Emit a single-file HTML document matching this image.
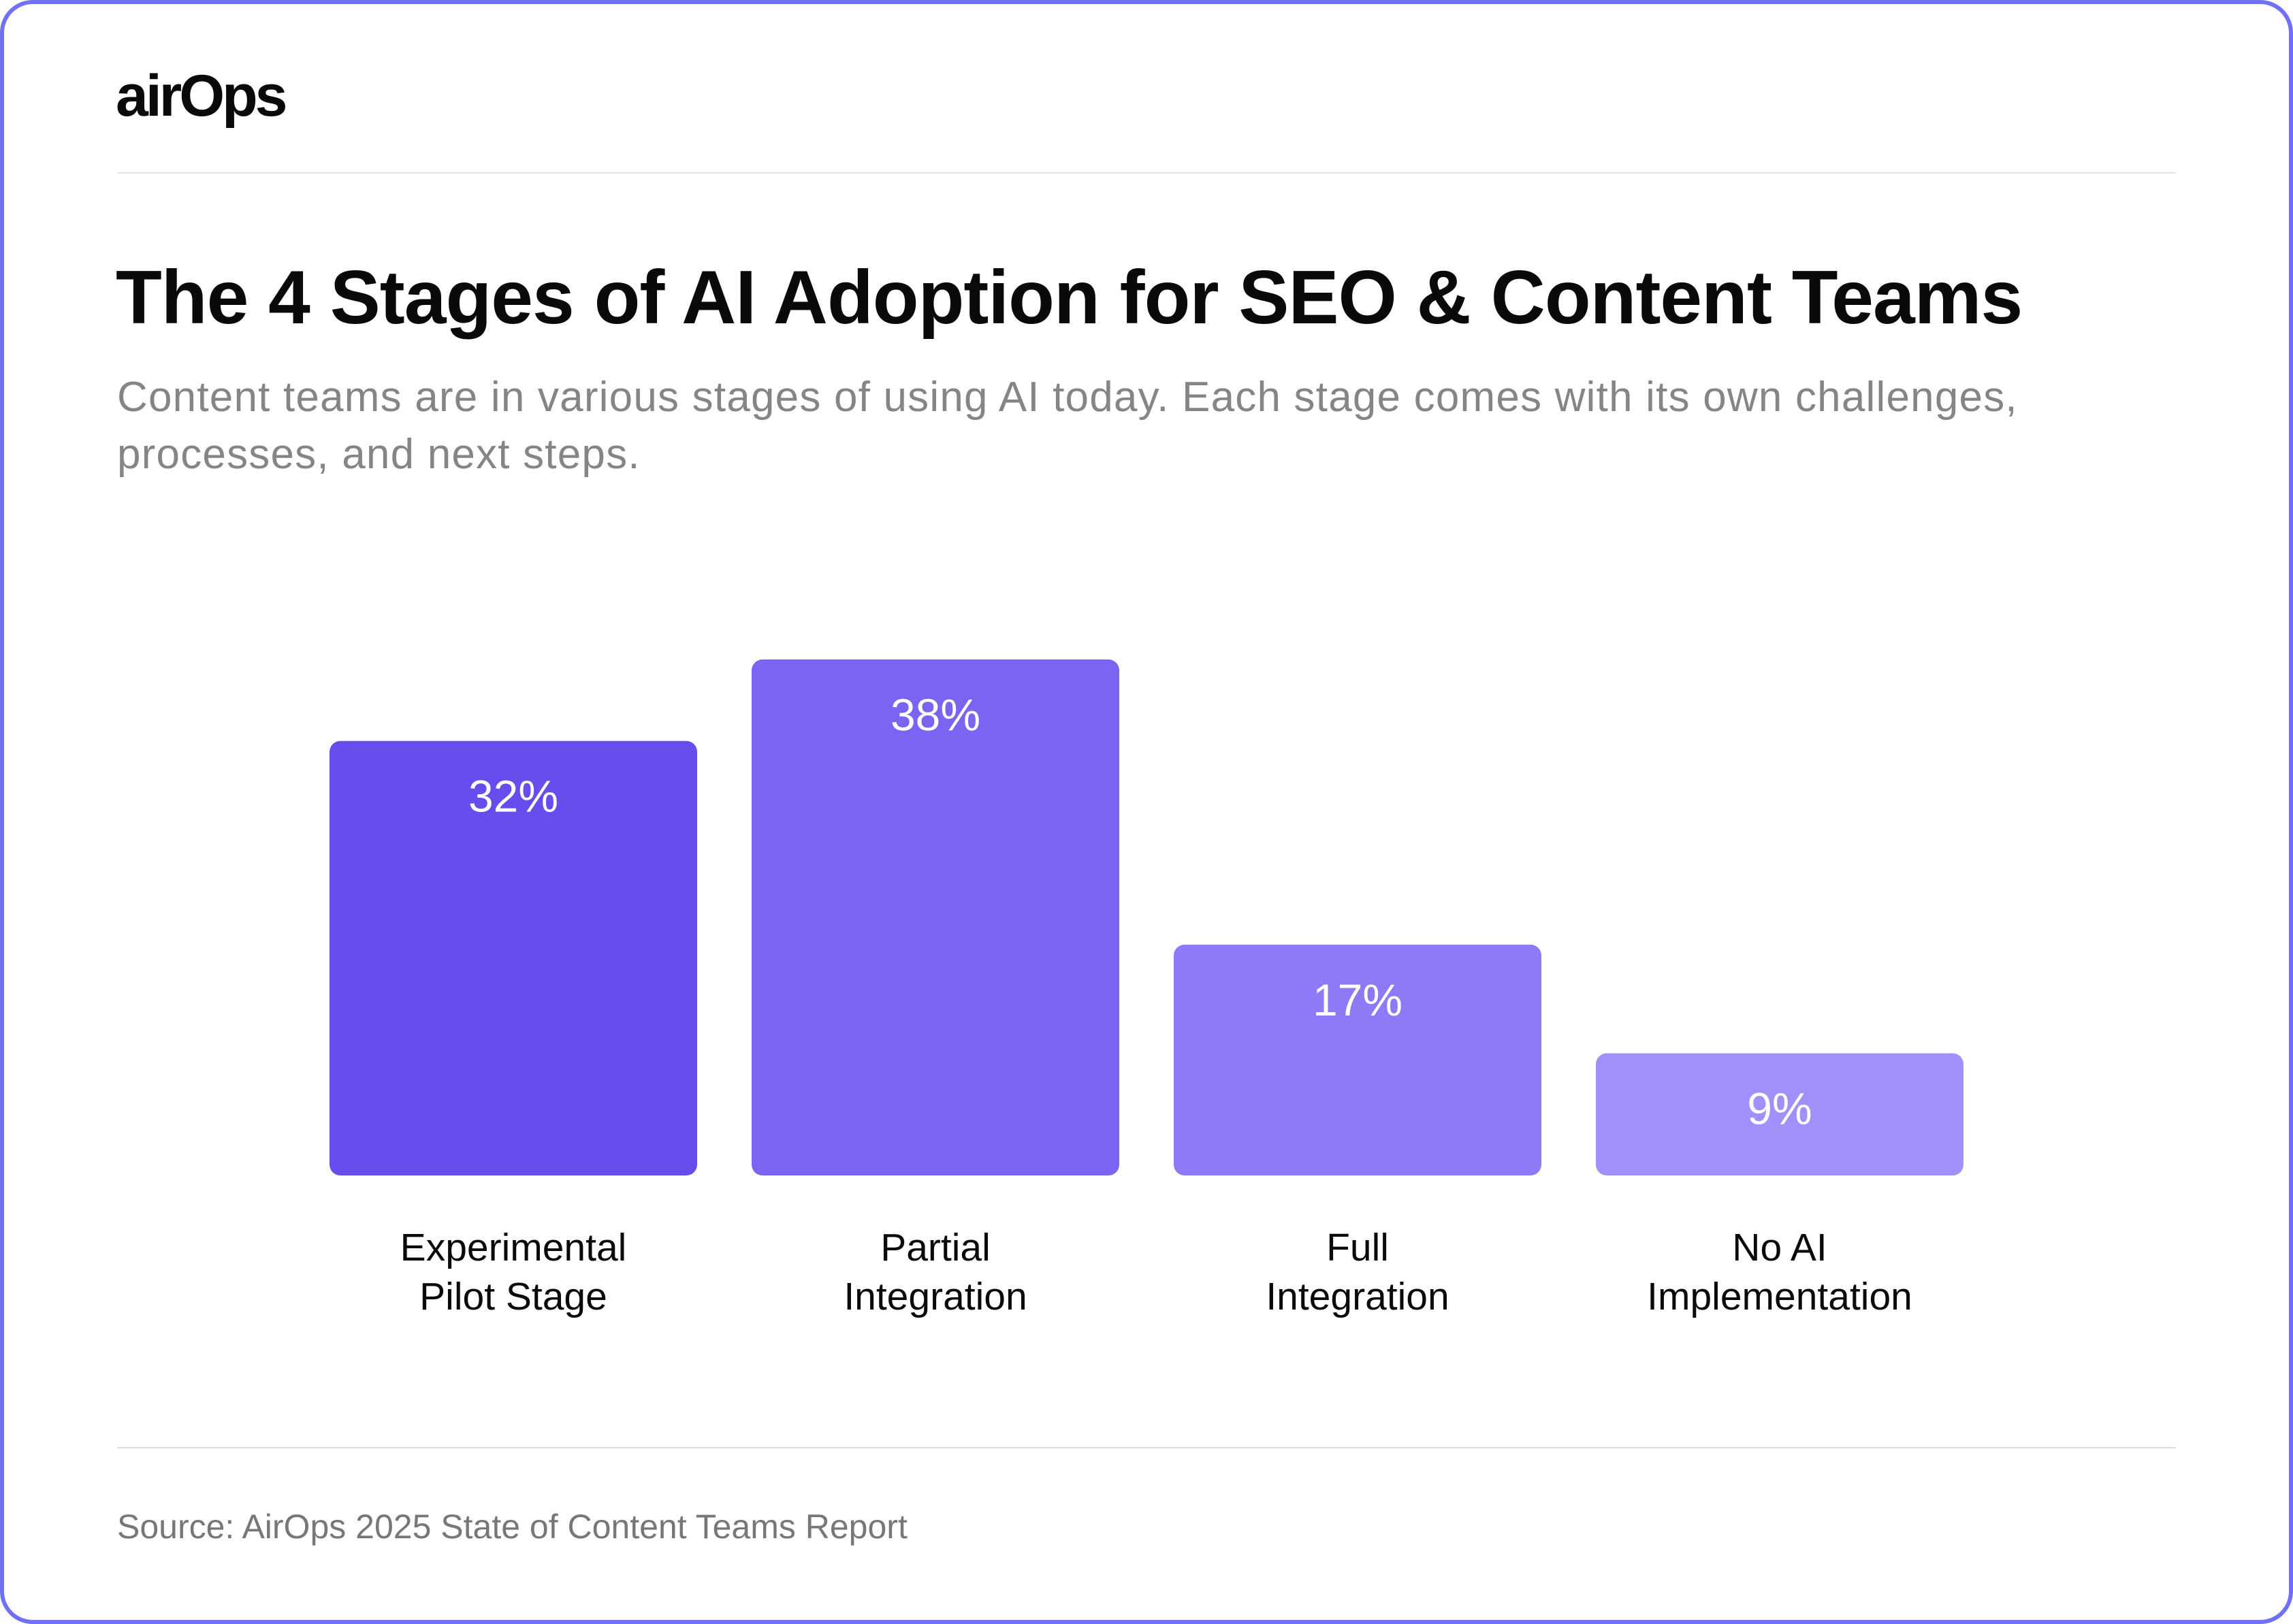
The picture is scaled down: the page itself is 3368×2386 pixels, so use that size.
<!DOCTYPE html>
<html><head><meta charset="utf-8"><style>
html,body{margin:0;padding:0;background:#fff;}
body{width:3368px;height:2386px;position:relative;overflow:hidden;font-family:"Liberation Sans",sans-serif;}
#frame{position:absolute;left:0;top:0;width:3368px;height:2386px;box-sizing:border-box;border:6px solid #7170fb;border-radius:48px;}
.abs{position:absolute;}
</style></head><body>
<div id="frame"></div>
<div class="abs" style="left:170px;top:98px;font-size:86px;font-weight:bold;letter-spacing:-4px;line-height:1;color:#0a0a0a;">airOps</div>
<div class="abs" style="left:172px;top:253px;width:3024px;height:2px;background:#e2e2e2;"></div>
<div class="abs" style="left:170px;top:374px;font-size:111px;font-weight:bold;letter-spacing:-1px;line-height:1.15;color:#0a0a0a;white-space:nowrap;">The 4 Stages of AI Adoption for SEO &amp; Content Teams</div>
<div class="abs" style="left:172px;top:542px;width:3100px;font-size:62px;letter-spacing:1.2px;line-height:84px;color:#858585;white-space:nowrap;">Content teams are in various stages of using AI today. Each stage comes with its own challenges,<br>processes, and next steps.</div>
<svg class="abs" style="left:0;top:0" width="3368" height="2386" id="chart"></svg>
<div class="abs" style="left:172px;top:2126px;width:3024px;height:2px;background:#dcdcdc;"></div>
<div class="abs" style="left:172px;top:2214px;font-size:50px;color:#777;">Source: AirOps 2025 State of Content Teams Report</div>
<script>
const categories=[["Experimental","Pilot Stage"],["Partial","Integration"],["Full","Integration"],["No AI","Implementation"]];
const values=[32,38,17,9];
const valueLabels=["32%","38%","17%","9%"];
const colors=["#674deb","#7a64f1","#8e7af6","#a190fa"];
const svg=document.getElementById('chart');
const NS="http://www.w3.org/2000/svg";
const baseY=1727, pxPer=19.95, x0=484, step=620, bw=540;
function yScale(v){return baseY-v*pxPer;}
function xScale(i){return x0+i*step;}
values.forEach((v,i)=>{
  const r=document.createElementNS(NS,'rect');
  
  
  r.setAttribute('x',xScale(i));r.setAttribute('y',yScale(v));
  r.setAttribute('width',bw);r.setAttribute('height',baseY-yScale(v));
  r.setAttribute('rx',16);r.setAttribute('fill',colors[i]);
  svg.appendChild(r);
  const t=document.createElementNS(NS,'text');
  
  
  t.setAttribute('x',xScale(i)+bw/2);t.setAttribute('y',yScale(v)+104);
  t.setAttribute('text-anchor','middle');t.setAttribute('font-size','66');
  t.setAttribute('fill','#fff');t.setAttribute('font-family','Liberation Sans, sans-serif');
  t.textContent=valueLabels[i];svg.appendChild(t);
  categories[i].forEach((line,j)=>{
    const c=document.createElementNS(NS,'text');
    
    
    c.setAttribute('x',xScale(i)+bw/2);c.setAttribute('y',1852+j*72);
    c.setAttribute('text-anchor','middle');c.setAttribute('font-size','57');
    c.setAttribute('fill','#0a0a0a');c.setAttribute('font-family','Liberation Sans, sans-serif');
    c.textContent=line;svg.appendChild(c);
  });
});
</script>
</body></html>
